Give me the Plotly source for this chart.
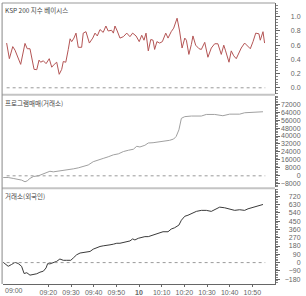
import plotly.graph_objects as go

# ---------------- data ----------------
basis_min = [1.6, 2.8, 4.3, 5.3, 7.8, 9.7, 10.7, 11.9, 13.7, 14.9, 15.9, 16.6, 17.8, 19.0, 20.4, 21.5,
             22.6, 23.7, 24.8, 25.9, 26.6, 27.7, 28.8, 29.6, 30.3, 31.3, 32.2, 33.2, 34.7, 35.4, 36.6,
             38.1, 39.6, 40.6, 41.6, 42.8, 44.2, 45.4, 46.4, 47.9, 48.7, 49.4, 50.4, 51.6, 53.1, 54.6,
             56.0, 57.2, 58.7, 60.1, 61.2, 62.2, 63.1, 64.1, 65.2, 66.2, 66.9, 67.9, 69.1, 70.3, 71.8,
             72.8, 74.2, 75.3, 76.8, 77.9, 79.0, 80.2, 80.9, 82.0, 83.1, 83.8, 85.0, 86.5, 87.5, 89.0,
             90.4, 91.9, 93.4, 94.8, 96.3, 97.4, 98.2, 99.7, 100.7, 101.8, 102.9, 104.1, 105.1, 106.6,
             108.1, 109.1, 110.3, 111.5, 112.9, 113.5, 114.7, 115.4]
basis_val = [0.63, 0.41, 0.58, 0.53, 0.33, 0.625, 0.55, 0.55, 0.26, 0.255, 0.39, 0.36, 0.38, 0.34, 0.41, 0.29,
             0.33, 0.36, 0.19, 0.26, 0.37, 0.36, 0.54, 0.69, 0.65, 0.70, 0.77, 0.57, 0.57, 0.77, 0.79,
             0.63, 0.70, 0.77, 0.73, 0.82, 0.78, 0.87, 0.80, 0.81, 0.77, 0.87, 0.80, 0.70, 0.72, 0.77,
             0.72, 0.77, 0.73, 0.65, 0.74, 0.67, 0.77, 0.52, 0.68, 0.67, 0.54, 0.65, 0.63, 0.65, 0.77,
             0.70, 0.79, 0.84, 0.98, 0.80, 0.56, 0.70, 0.67, 0.47, 0.61, 0.73, 0.60, 0.55, 0.54, 0.64,
             0.43, 0.56, 0.62, 0.62, 0.47, 0.60, 0.52, 0.36, 0.52, 0.45, 0.41, 0.49, 0.56, 0.63,
             0.59, 0.55, 0.65, 0.77, 0.76, 0.67, 0.79, 0.63]

prog_min = [0.1, 2.3, 4.5, 6.7, 8.2, 9.7, 10.7, 11.9, 13.4, 15.6, 16.6, 17.8, 19.3, 20.7, 22.2, 24.4,
            26.6, 28.8, 31.0, 33.2, 35.4, 37.6, 39.8, 42.0, 44.2, 46.4, 48.7, 50.9, 53.1, 55.3, 57.5,
            59.0, 60.4, 62.6, 64.1, 66.2, 69.1, 73.5, 75.3, 76.4, 77.6, 78.7, 80.2, 83.1, 87.5, 89.7,
            93.4, 97.0, 100.0, 104.4, 106.6, 110.3, 114.7]
prog_val = [-1700, -1700, -2600, -3300, -4300, -6000, -5000, -2600, -700, 0, 1000, 2000, 4000, 4600, 4000, 4600,
            5300, 6000, 7000, 8000, 9200, 10900, 14200, 15500, 17500, 19100, 21100, 22100, 24400, 25700, 26700,
            29700, 29000, 30700, 33000, 33300, 34000, 35700, 37000, 39600, 46200, 57800, 59500, 60100, 60100, 61700,
            61700, 60400, 62000, 62000, 63400, 63700, 64400]

frgn_min = [0.1, 2.3, 3.8, 5.3, 6.7, 8.2, 9.3, 10.5, 11.9, 13.4, 14.9, 16.3, 17.8, 19.0, 19.7, 20.7,
            22.2, 23.7, 25.1, 26.6, 28.1, 29.9, 31.0, 32.5, 34.0, 35.4, 36.9, 38.4, 39.8, 41.3, 42.8,
            44.2, 45.7, 47.2, 48.7, 50.2, 51.6, 53.1, 54.6, 56.0, 57.2, 58.2, 59.7, 61.2, 62.6, 64.1,
            66.2, 67.6, 69.1, 70.6, 72.8, 74.2, 75.7, 77.6, 78.7, 80.2, 81.6, 83.1, 85.3, 87.5, 89.7,
            91.9, 94.1, 95.6, 97.8, 100.0, 102.2, 104.4, 106.6, 108.1, 109.5, 111.0, 112.9, 114.7]
frgn_val = [3, -40, -20, 3, -10, -40, -118, -110, -136, -128, -121, -104, -93, -58, -11, -14,
            -4, 14, 39, 25, 25, 25, 50, 85, 104, 111, 118, 121, 146, 164, 175,
            182, 185, 193, 200, 210, 210, 217, 221, 235, 257, 246, 264, 275, 282, 282,
            300, 307, 328, 335, 335, 364, 378, 407, 460, 503, 514, 531, 556, 567, 567,
            556, 584, 602, 595, 577, 567, 574, 567, 584, 595, 610, 620, 631]

x_tick_min = [20, 30, 40, 50, 60, 70, 80, 90, 100, 110]
x_tick_text = ["09:20", "09:30", "09:40", "09:50", "<b>10</b>", "10:10", "10:20", "10:30", "10:40", "10:50"]
first_label = "09:00"

top_ticks = [0.0, 0.2, 0.4, 0.6, 0.8, 1.0]
mid_ticks = [-8000, 0, 8000, 16000, 24000, 32000, 40000, 48000, 56000, 64000, 72000]
bot_ticks = [-180, -90, 0, 90, 180, 270, 360, 450, 540, 630, 720]

titles = ["KSP 200 지수 베이시스", "프로그램매매(거래소)", "거래소(외국인)"]

# ---------------- layout constants ----------------
W, H = 306, 296
L, R, T, B = 3, 0, 3, 8
XDOM = [0, 0.8977]
dom_top = [0.6772, 1.0]
dom_mid = [0.3439, 0.6702]
dom_bot = [0.0, 0.3368]
rng_top = [-0.0833, 1.194]
rng_mid = [-11595, 80568]
rng_bot = [-232.2, 795]
LABPOS = 0.982

tick_font = dict(family="Liberation Sans Narrow, Liberation Sans, Arial, sans-serif", size=7, color="#666666")
title_font = dict(family="Noto Sans CJK KR, sans-serif", size=6.5, color="#444444")

fig = go.Figure()

fig.add_trace(go.Scatter(x=basis_min, y=basis_val, mode="lines", xaxis="x", yaxis="y",
                         line=dict(color="#b45555", width=1), showlegend=False))
fig.add_trace(go.Scatter(x=prog_min, y=prog_val, mode="lines", xaxis="x2", yaxis="y2",
                         line=dict(color="#a0a0a0", width=1), showlegend=False))
fig.add_trace(go.Scatter(x=frgn_min, y=frgn_val, mode="lines", xaxis="x3", yaxis="y3",
                         line=dict(color="#3a3a3a", width=1), showlegend=False))

zero_x = [basis_min[0], frgn_min[-1] + 1.0]
for xa, ya in [("x", "y4"), ("x2", "y5"), ("x3", "y6")]:
    fig.add_trace(go.Scatter(x=zero_x, y=[0, 0], mode="lines", xaxis=xa, yaxis=ya,
                             line=dict(color="#9a9a9a", width=1, dash="dot"), showlegend=False,
                             hoverinfo="skip"))

hidden_x = dict(domain=XDOM, range=[0, 120], showticklabels=False, ticks="", showline=False,
                showgrid=False, zeroline=False)


def main_y(dom, rng, ticks, minor_dtick, anchor):
    return dict(domain=dom, range=rng, side="right", anchor=anchor, showline=True, linecolor="#666666",
                linewidth=1, ticks="outside", ticklen=4, tickcolor="#666666", tickmode="array",
                tickvals=ticks, showticklabels=False, showgrid=False, zeroline=False,
                minor=dict(ticks="outside", ticklen=2, tickcolor="#888888", dtick=minor_dtick,
                           tick0=0, showgrid=False))


def label_y(over, rng, ticks, fmt):
    return dict(overlaying=over, range=rng, anchor="free", position=LABPOS, side="left",
                showline=False, ticks="", tickmode="array", tickvals=ticks,
                tickformat=fmt, tickfont=tick_font, showgrid=False, zeroline=False)


fig.update_layout(
    width=W, height=H, margin=dict(l=L, r=R, t=T, b=B),
    paper_bgcolor="white", plot_bgcolor="white",
    xaxis=dict(hidden_x, anchor="y"),
    xaxis2=dict(hidden_x, anchor="y2", matches="x"),
    xaxis3=dict(domain=XDOM, range=[0, 120], anchor="y3", matches="x", tickmode="array",
                tickvals=x_tick_min, ticktext=x_tick_text, ticks="outside", ticklen=2,
                tickcolor="#666666", tickfont=tick_font, showline=True, linecolor="#666666",
                showgrid=False, zeroline=False, ticklabelstandoff=0),
    yaxis=main_y(dom_top, rng_top, top_ticks, 0.04, "x"),
    yaxis2=main_y(dom_mid, rng_mid, mid_ticks, 1600, "x2"),
    yaxis3=main_y(dom_bot, rng_bot, bot_ticks, 18, "x3"),
    yaxis4=label_y("y", rng_top, top_ticks, ".1f"),
    yaxis5=label_y("y2", rng_mid, mid_ticks, "d"),
    yaxis6=label_y("y3", rng_bot, bot_ticks, "d"),
)

# panel titles
for t, dom in zip(titles, [dom_top, dom_mid, dom_bot]):
    fig.add_annotation(text=t, xref="paper", yref="paper", x=0.003, y=dom[1], xanchor="left",
                       yanchor="top", showarrow=False, font=title_font, yshift=-1,
                       bgcolor="white", borderpad=0)

# first time label (left-aligned so it is not cut off)
fig.add_annotation(text=first_label, xref="paper", yref="paper", x=0.003, y=0, xanchor="left",
                   yanchor="top", yshift=-2, showarrow=False, bgcolor="white", borderpad=0,
                   font=dict(family=tick_font["family"], size=7, color="#666666"))

# frame: top line, separators, left line
ph = H - T - B
sep_y = [(H - B - 96) / ph, (H - B - 191) / ph]
shapes = [dict(type="line", xref="paper", yref="paper", x0=-0.003, x1=XDOM[1], y0=1, y1=1,
               line=dict(color="#999999", width=1))]
for sy in sep_y:
    shapes.append(dict(type="line", xref="paper", yref="paper", x0=-0.003, x1=XDOM[1], y0=sy, y1=sy,
                       line=dict(color="#c4c4c4", width=2)))
shapes.append(dict(type="line", xref="paper", yref="paper", x0=-0.003, x1=-0.003, y0=0, y1=1,
                   line=dict(color="#888888", width=1)))
fig.update_layout(shapes=shapes)

fig.write_html("out.html")
